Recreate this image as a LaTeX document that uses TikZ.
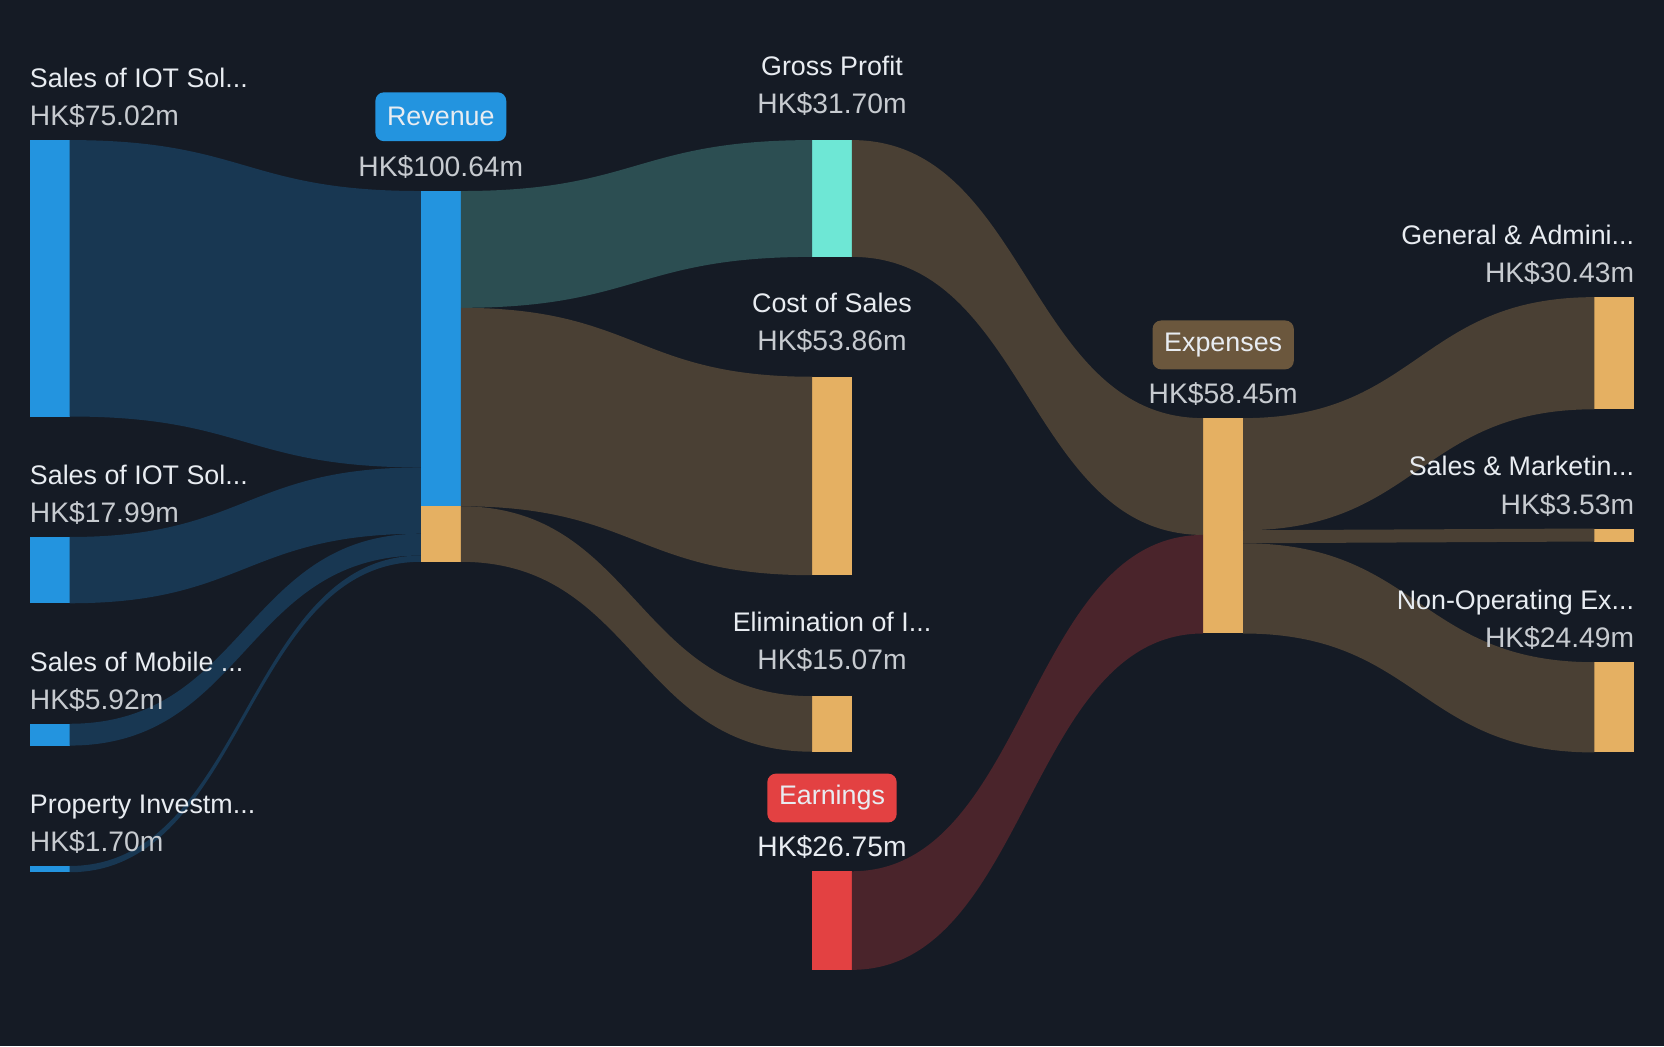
\documentclass[tikz,border=0pt]{standalone}
\usepackage{fontspec}
\setmainfont{Liberation Sans}
\usetikzlibrary{calc}
\definecolor{bg}{HTML}{151B25}
\definecolor{cblue}{HTML}{2394DF}
\definecolor{cmint}{HTML}{6EE7D5}
\definecolor{corange}{HTML}{E5B062}
\definecolor{cred}{HTML}{E34142}
\definecolor{fblue}{HTML}{183752}
\definecolor{fteal}{HTML}{2C4E52}
\definecolor{fbrown}{HTML}{4A4034}
\definecolor{fred}{HTML}{4A242B}
\definecolor{pillbrown}{HTML}{6B573D}
\definecolor{tname}{HTML}{E8ECF1}
\definecolor{tval}{HTML}{C7CBD0}
\newcommand\sflow[6]{%
  \fill[#1] let \p1=(#2.north east), \p2=(#4.north west), \p3=($(\p1)!.5!(\p2)$) in
    (\x1,\y1-#3pt) .. controls (\x3,\y1-#3pt) and (\x3,\y2-#5pt) .. (\x2,\y2-#5pt)
    -- (\x2,\y2-#5pt-#6pt) .. controls (\x3,\y2-#5pt-#6pt) and (\x3,\y1-#3pt-#6pt) .. (\x1,\y1-#3pt-#6pt) -- cycle;}
\tikzset{
  bar/.style={rectangle, inner sep=0pt, outer sep=0pt, minimum width=37.6pt, anchor=north west},
  nm/.style={text=tname, inner sep=0pt, font=\fontsize{25.3}{30}\selectfont},
  val/.style={text=tval, inner sep=0pt, font=\fontsize{26.6}{31}\selectfont},
  pill/.style={rectangle, rounded corners=8pt, inner xsep=11pt, inner ysep=0pt, minimum height=46pt, text=tname, font=\fontsize{25.3}{30}\selectfont},
}
\begin{document}
\begin{tikzpicture}[x=1pt,y=-1pt]
\fill[bg] (0,0) rectangle (1568,986);
\useasboundingbox (0,0) rectangle (1568,986);
% bars
\node[bar, fill=cblue, minimum height=260.47pt] (iot1) at (28,132) {};
\node[bar, fill=cblue, minimum height=62.46pt] (iot2) at (28,506) {};
\node[bar, fill=cblue, minimum height=20.55pt] (mob) at (28,682) {};
\node[bar, fill=cblue, minimum height=5.9pt] (prop) at (28,816) {};
\node[bar, fill=cblue, minimum height=349.4pt] (rev) at (396.6,180) {};
\node[bar, fill=corange, minimum height=52.34pt] (revo) at (396.6,477.06) {};
\node[bar, fill=cmint, minimum height=110.06pt] (gp) at (765.2,132) {};
\node[bar, fill=corange, minimum height=187.0pt] (cos) at (765.2,355) {};
\node[bar, fill=corange, minimum height=52.32pt] (elim) at (765.2,656) {};
\node[bar, fill=cred, minimum height=92.87pt] (earn) at (765.2,821) {};
\node[bar, fill=corange, minimum height=202.93pt] (exp) at (1133.8,394) {};
\node[bar, fill=corange, minimum height=105.65pt] (ga) at (1502.4,280) {};
\node[bar, fill=corange, minimum height=12.26pt] (sm) at (1502.4,498) {};
\node[bar, fill=corange, minimum height=85.03pt] (nonop) at (1502.4,624) {};
% flows
\sflow{fblue}{iot1}{0}{rev}{0}{260.47}
\sflow{fblue}{iot2}{0}{rev}{260.47}{62.46}
\sflow{fblue}{mob}{0}{rev}{322.93}{20.55}
\sflow{fblue}{prop}{0}{rev}{343.48}{5.9}
\sflow{fteal}{rev}{0}{gp}{0}{110.06}
\sflow{fbrown}{rev}{110.06}{cos}{0}{187.0}
\sflow{fbrown}{rev}{297.06}{elim}{0}{52.32}
\sflow{fbrown}{gp}{0}{exp}{0}{110.06}
\sflow{fred}{earn}{0}{exp}{110.06}{92.87}
\sflow{fbrown}{exp}{0}{ga}{0}{105.65}
\sflow{fbrown}{exp}{105.65}{sm}{0}{12.26}
\sflow{fbrown}{exp}{117.91}{nonop}{0}{85.03}
% left labels
\node[nm, anchor=base west] (l1) at (28,82.5) {Sales of IOT Sol...};
\node[val, anchor=base west] (v1) at (28,118.5) {HK\$75.02m};
\node[nm, anchor=base west] (l2) at (28,456.5) {Sales of IOT Sol...};
\node[val, anchor=base west] (v2) at (28,492.5) {HK\$17.99m};
\node[nm, anchor=base west] (l3) at (28,632.5) {Sales of Mobile ...};
\node[val, anchor=base west] (v3) at (28,668.5) {HK\$5.92m};
\node[nm, anchor=base west] (l4) at (28,766.5) {Property Investm...};
\node[val, anchor=base west] (v4) at (28,802.5) {HK\$1.70m};
% revenue
\node[pill, fill=cblue] (prev) at (415.4,110) {Revenue};
\node[val, anchor=base] (vrev) at (415.4,166) {HK\$100.64m};
% middle labels
\node[nm, anchor=base] (lgp) at (784,71) {Gross Profit};
\node[val, anchor=base] (vgp) at (784,107) {HK\$31.70m};
\node[nm, anchor=base] (lcos) at (784,294) {Cost of Sales};
\node[val, anchor=base] (vcos) at (784,330) {HK\$53.86m};
\node[nm, anchor=base] (lel) at (784,595) {Elimination of I...};
\node[val, anchor=base] (vel) at (784,631) {HK\$15.07m};
\node[pill, fill=cred] (pearn) at (784,752) {Earnings};
\node[val, text=tname, anchor=base] (vearn) at (784,807) {HK\$26.75m};
% expenses
\node[pill, fill=pillbrown] (pexp) at (1152.6,325) {Expenses};
\node[val, anchor=base] (vexp) at (1152.6,380) {HK\$58.45m};
% right labels
\node[nm, anchor=base east] (lga) at (1540,230.5) {General \& Admini...};
\node[val, anchor=base east] (vga) at (1540,266.5) {HK\$30.43m};
\node[nm, anchor=base east] (lsm) at (1540,448.5) {Sales \& Marketin...};
\node[val, anchor=base east] (vsm) at (1540,484.5) {HK\$3.53m};
\node[nm, anchor=base east] (lno) at (1540,574.5) {Non-Operating Ex...};
\node[val, anchor=base east] (vno) at (1540,610.5) {HK\$24.49m};
\end{tikzpicture}
\end{document}
